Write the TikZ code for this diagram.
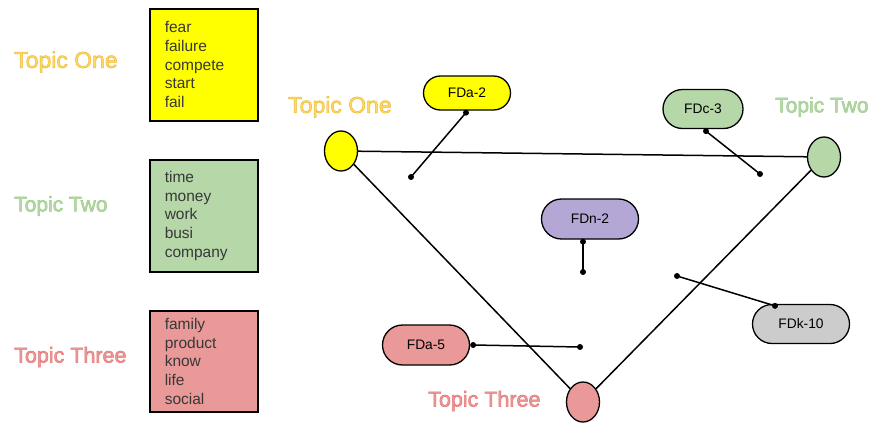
\documentclass[tikz,border=0pt]{standalone}
\usepackage{fontspec}
\setmainfont{Liberation Sans}
\usetikzlibrary{shapes.geometric,shapes.misc,calc}
\definecolor{yel}{HTML}{FFFF00}
\definecolor{grn}{HTML}{B6D7A8}
\definecolor{pnk}{HTML}{EA9999}
\definecolor{prp}{HTML}{B4A7D6}
\definecolor{gry}{HTML}{CCCCCC}
\definecolor{txt}{HTML}{383838}
\definecolor{oneF}{HTML}{FFD966}
\definecolor{twoF}{HTML}{B6D7A8}
\definecolor{threeF}{HTML}{EA9999}
\newcommand\outl[3]{\textcolor{#1}{\special{pdf:literal direct 2 Tr 0.5 w #2 RG}#3\special{pdf:literal direct 0 Tr}}}
\newcommand\topicOne{\outl{oneF}{0.93 0.72 0.2}{Topic One}}
\newcommand\topicTwo{\outl{twoF}{0.62 0.80 0.54}{Topic Two}}
\newcommand\topicThree{\outl{threeF}{0.90 0.45 0.45}{Topic Three}}
\begin{document}
\begin{tikzpicture}[x=1pt,y=-1pt,
  wordbox/.style={draw=black,line width=1.5pt,rectangle,text width=78pt,inner xsep=15pt,inner ysep=0pt,
    minimum height=#1,align=left,font=\fontsize{15.5}{18.7}\selectfont,text=txt,anchor=north west},
  topic/.style={inner sep=0pt,anchor=west},
  pill/.style={draw=black,line width=1.3pt,rounded rectangle,minimum width=#1,minimum height=39pt,
    inner sep=0pt,font=\fontsize{13.8}{16}\selectfont,text=black},
  blob/.style={draw=black,line width=1.3pt,ellipse,inner sep=0pt,minimum width=33pt,minimum height=40pt},
  link/.style={line width=1.5pt,draw=black}]
\useasboundingbox (0,0) rectangle (876,423);
% left legend
\node[topic,font=\fontsize{23}{26}\selectfont] (lt1) at (14,62) {\topicOne};
\node[topic,font=\fontsize{21}{26}\selectfont] (lt2) at (14,206) {\topicTwo};
\node[topic,font=\fontsize{21.5}{26}\selectfont] (lt3) at (14,357) {\topicThree};
\node[wordbox=112pt,fill=yel] (b1) at (149,8) {fear\\failure\\compete\\start\\fail};
\node[wordbox=112pt,fill=grn] (b2) at (149,159) {time\\money\\work\\busi\\company};
\node[wordbox=101pt,fill=pnk] (b3) at (149,310) {family\\product\\know\\life\\social};
% topic nodes
\node[blob,fill=yel] (t1) at (341,151) {};
\node[blob,fill=grn] (t2) at (824,157) {};
\node[blob,fill=pnk] (t3) at (583,402) {};
\node[topic,font=\fontsize{23}{26}\selectfont] (rt1) at (288,107) {\topicOne};
\node[topic,font=\fontsize{21}{26}\selectfont] (rt2) at (775,107) {\topicTwo};
\node[topic,font=\fontsize{21.5}{26}\selectfont] (rt3) at (428,401) {\topicThree};
\draw[link] (t1) -- (t2);
\draw[link] (t1) -- (t3);
\draw[link] (t2) -- (t3);
% documents
\node[pill=87pt,minimum height=34pt,fill=yel] (fda2) at (467,93) {FDa-2};
\node[pill=80pt,fill=grn] (fdc3) at (703,109) {FDc-3};
\node[pill=97pt,minimum height=40pt,fill=prp] (fdn2) at (590,219) {FDn-2};
\node[pill=97pt,fill=gry] (fdk10) at (801,324) {FDk-10};
\node[pill=87pt,minimum height=40pt,fill=pnk] (fda5) at (426,345) {FDa-5};
\coordinate (p1) at (411,177);
\coordinate (p2) at (760,174);
\coordinate (p3) at (583,272);
\coordinate (p4) at (677,276);
\coordinate (p5) at (580,347);
\coordinate (a1) at ($(fda2.south)+(-1,2)$);
\coordinate (a2) at ($(fdc3.south)+(3,2)$);
\coordinate (a3) at ($(fdn2.south)+(-7,2)$);
\coordinate (a4) at ($(fdk10.north west)+(3,2)$);
\coordinate (a5) at ($(fda5.east)+(3,0)$);
\foreach \a/\p in {a1/p1,a2/p2,a3/p3,a4/p4,a5/p5}{
  \draw[link] (\a) -- (\p);
  \fill (\a) circle[radius=3pt];
  \fill (\p) circle[radius=3pt];
}
\end{tikzpicture}
\end{document}
